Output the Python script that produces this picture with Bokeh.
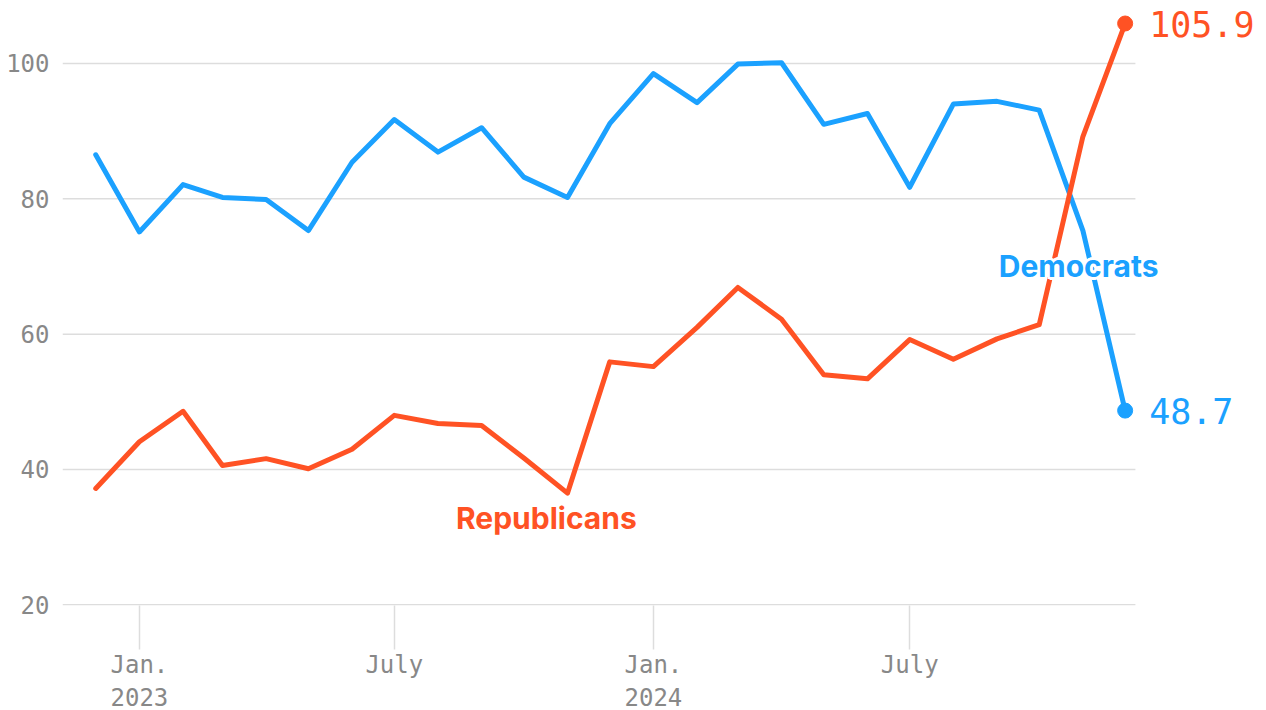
import pandas as pd
from bokeh.plotting import figure
from bokeh.models import Range1d, FixedTicker, Label, ColumnDataSource
from bokeh.embed import file_html
from bokeh.resources import INLINE

# ---- data ----
months = list(pd.date_range("2022-12-01", "2024-12-01", freq="MS"))
democrats = [86.5, 75.1, 82.1, 80.2, 79.9, 75.3, 85.4, 91.7, 86.9, 90.5, 83.2, 80.2,
             91.1, 98.5, 94.2, 99.9, 100.1, 91.0, 92.6, 81.7, 94.0, 94.4, 93.1, 75.3, 48.7]
republicans = [37.2, 44.1, 48.6, 40.6, 41.6, 40.1, 43.0, 48.0, 46.8, 46.5, 41.7, 36.5,
               55.9, 55.2, 61.0, 66.9, 62.2, 54.0, 53.4, 59.2, 56.3, 59.3, 61.4, 89.2, 105.9]
x_tick_dates = ["2023-01-01", "2023-07-01", "2024-01-01", "2024-07-01"]
x_tick_labels = ["Jan.\n2023", "July", "Jan.\n2024", "July"]
y_ticks = [20, 40, 60, 80, 100]
series_names = ["Democrats", "Republicans"]

BLUE = "#1ba1ff"
RED = "#ff5224"
GRAY = "#888888"
GRID = "#dddddd"
MONO = "DejaVu Sans Mono"
SANS = "Inter"


def ms(d):
    return int(pd.Timestamp(d).timestamp() * 1000)


src = ColumnDataSource(dict(x=months, dem=democrats, rep=republicans))

x_start = ms(months[0] - pd.Timedelta(days=23.6))
x_end = ms(months[-1] + pd.Timedelta(days=94.7))
grid_end = ms(months[-1] + pd.Timedelta(days=7.3))

p = figure(
    frame_width=1196, frame_height=605,
    x_axis_type="datetime",
    x_range=Range1d(x_start, x_end),
    y_range=Range1d(19.9, 109.3),
    output_backend="svg", toolbar_location=None,
    min_border_left=62, min_border_right=0, min_border_top=0, min_border_bottom=0,
)
p.outline_line_color = None
p.background_fill_color = "white"
p.border_fill_color = "white"

# grid (drawn as segments so they stop before the value labels)
p.xgrid.grid_line_color = None
p.ygrid.grid_line_color = None
p.segment(x0=[x_start] * len(y_ticks), x1=[grid_end] * len(y_ticks),
          y0=y_ticks, y1=y_ticks, line_color=GRID, line_width=1.5)

# y axis
p.yaxis.ticker = FixedTicker(ticks=y_ticks)
p.yaxis.axis_line_color = None
p.yaxis.major_tick_line_color = None
p.yaxis.minor_tick_line_color = None
p.yaxis.major_label_standoff = 7
p.yaxis.major_label_text_font = MONO
p.yaxis.major_label_text_font_size = "24px"
p.yaxis.major_label_text_color = GRAY

# x axis
xt = [ms(d) for d in x_tick_dates]
p.xaxis.ticker = FixedTicker(ticks=xt)
p.xaxis.major_label_overrides = {t: l for t, l in zip(xt, x_tick_labels)}
p.xaxis.axis_line_color = None
p.xaxis.major_tick_line_color = GRID
p.xaxis.major_tick_line_width = 1.5
p.xaxis.major_tick_in = 0
p.xaxis.major_tick_out = 44
p.xaxis.minor_tick_line_color = None
p.xaxis.major_label_standoff = 1
p.xaxis.major_label_text_font = MONO
p.xaxis.major_label_text_font_size = "24px"
p.xaxis.major_label_text_color = GRAY

# lines
p.line("x", "dem", source=src, line_color=BLUE, line_width=5, line_join="round", line_cap="round")
p.line("x", "rep", source=src, line_color=RED, line_width=5, line_join="round", line_cap="round")
p.scatter([months[-1]], [democrats[-1]], size=15, color=BLUE)
p.scatter([months[-1]], [republicans[-1]], size=15, color=RED)

# end value labels
for val, col in [(democrats[-1], BLUE), (republicans[-1], RED)]:
    p.add_layout(Label(x=ms(months[-1]), y=val, text=f"{val:.1f}", x_offset=24,
                       text_baseline="middle", text_align="left",
                       text_font=MONO, text_font_size="35px", text_color=col))


def halo_label(x, y, text, color):
    offs = [(-3, 0), (3, 0), (0, -3), (0, 3), (-2, -2), (2, 2), (-2, 2), (2, -2)]
    for dx, dy in offs:
        p.add_layout(Label(x=x, y=y, text=text, x_offset=dx, y_offset=dy,
                           text_align="center", text_baseline="alphabetic",
                           text_font=SANS, text_font_style="bold", text_font_size="30px",
                           text_color="white"))
    p.add_layout(Label(x=x, y=y, text=text,
                       text_align="center", text_baseline="alphabetic",
                       text_font=SANS, text_font_style="bold", text_font_size="30px",
                       text_color=color))


# series labels
halo_label(ms("2024-10-29"), 70.0, series_names[0], BLUE)
halo_label(ms("2023-10-17"), 32.8, series_names[1], RED)

open("out.html", "w").write(file_html(p, INLINE))
